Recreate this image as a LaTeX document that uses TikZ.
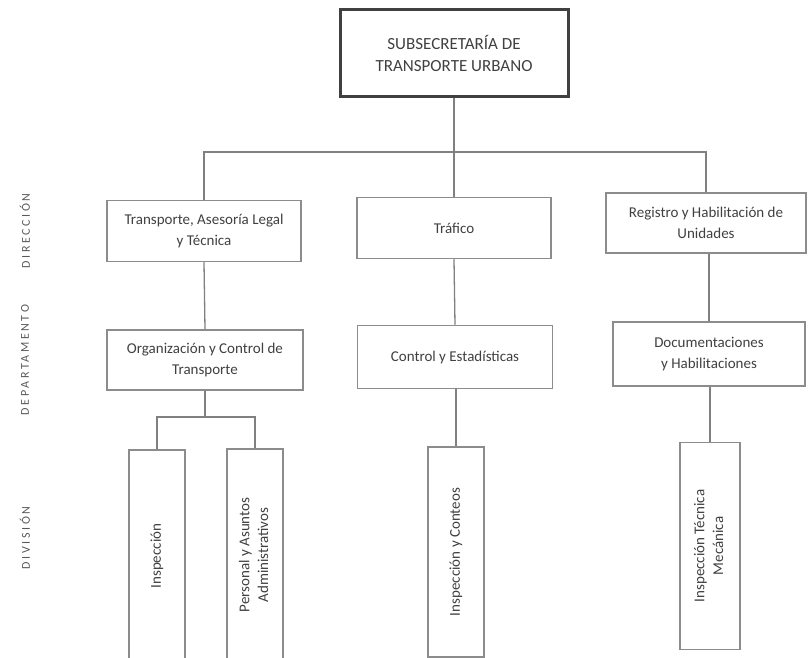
\documentclass[tikz,border=0pt]{standalone}
\usepackage{fontspec}
\setmainfont{Carlito}
\newfontfamily\sidefont[LetterSpace=22]{Carlito}
\usepackage{graphicx}
\newcommand{\vtext}[1]{\raisebox{-0.5\height}{\rotatebox{90}{\renewcommand\arraystretch{1.05}\begin{tabular}{@{}c@{}}#1\end{tabular}}}}

\begin{document}
\begin{tikzpicture}[x=1pt,y=-1pt,
  box/.style={draw=black!45, line width=1.5pt, align=center, inner sep=2pt,
    text=black!75, font=\fontsize{15}{21}\selectfont},
  headbox/.style={box, draw=black!75, line width=3pt, font=\fontsize{17}{22}\selectfont},
  divbox/.style={draw=black!45, line width=1.5pt, inner sep=0pt, text=black!75,
    text height=0pt, text depth=0pt, minimum width=56pt, font=\fontsize{15}{18}\selectfont},
  side/.style={rotate=90, text=black!65, font=\sidefont\fontsize{12}{14}\selectfont},
  link/.style={draw=black!50, line width=1.3pt}]
\useasboundingbox (0,0) rectangle (809,658);

% cabecera
\node[headbox, minimum width=228pt, minimum height=87pt] (sub) at (454,53) {SUBSECRETARÍA DE\\TRANSPORTE URBANO};

% direcciones
\node[box, minimum width=194pt, minimum height=61pt] (dir1) at (204,231) {Transporte, Asesoría Legal\\y Técnica};
\node[box, minimum width=194pt, minimum height=61pt] (dir2) at (454,228) {Tráfico};
\node[box, minimum width=200pt, minimum height=60pt] (dir3) at (706,223) {Registro y Habilitación de\\Unidades};

% departamentos
\node[box, minimum width=196pt, minimum height=60pt] (dep1) at (205,360) {Organización y Control de\\Transporte};
\node[box, minimum width=195pt, minimum height=63pt] (dep2) at (455,357) {Control y Estadísticas};
\node[box, minimum width=192pt, minimum height=64pt] (dep3) at (709,354) {Documentaciones\\y Habilitaciones};

% divisiones
\node[divbox, minimum height=212pt] (div1a) at (157,556) {\vtext{Inspección}};
\node[divbox, minimum height=212pt] (div1b) at (255,555) {\vtext{Personal y Asuntos\\Administrativos}};
\node[divbox, minimum height=210pt] (div2) at (456,552) {\vtext{Inspección y Conteos}};
\node[divbox, minimum width=60pt, minimum height=207pt] (div3) at (710,546) {\vtext{Inspección Técnica\\Mecánica}};

% etiquetas laterales
\node[side] (ldir) at (25,231) {DIRECCIÓN};
\node[side] (ldep) at (25,360) {DEPARTAMENTO};
\node[side] (ldiv) at (25,538) {DIVISIÓN};

% conectores
\coordinate (bus) at (454,152);
\coordinate (split) at (205,417);
\draw[link] (sub.south) -- (bus);
\draw[link] (dir1.north) |- (bus) -| (dir3.north);
\draw[link] (bus) -- (dir2.north);
\draw[link] (dir1.south) -- (dep1.north);
\draw[link] (dir2.south) -- (dep2.north);
\draw[link] (dir3.south -| dep3.north) -- (dep3.north);
\draw[link] (dep1.south) -- (split);
\draw[link] (div1a.north) |- (split) -| (div1b.north);
\draw[link] (dep2.south -| div2.north) -- (div2.north);
\draw[link] (dep3.south -| div3.north) -- (div3.north);
\end{tikzpicture}
\end{document}
